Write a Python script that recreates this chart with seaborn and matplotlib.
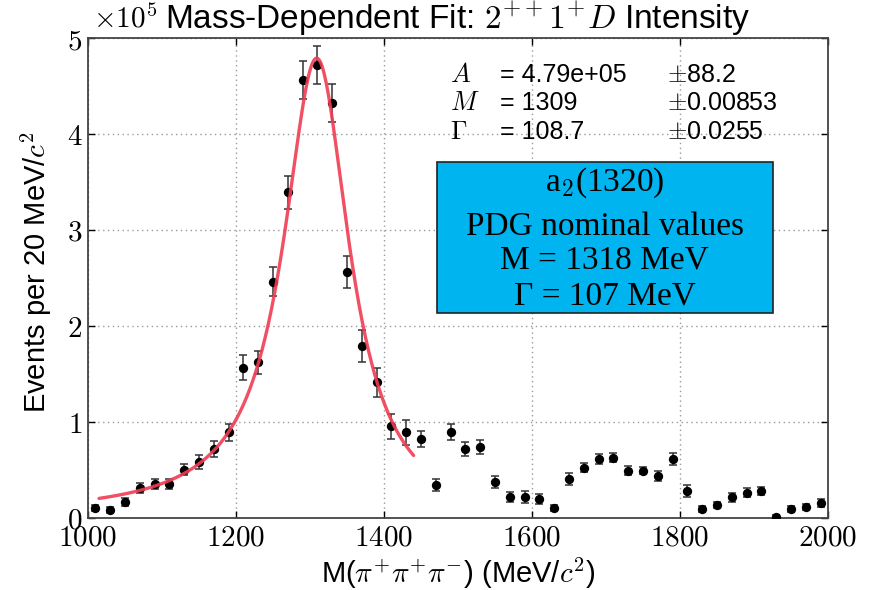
import numpy as np
import pandas as pd
import matplotlib
matplotlib.use("Agg")
import matplotlib.pyplot as plt
from matplotlib.patches import Rectangle
import seaborn as sns

# ----------- DATOS (en unidades de 10^5 eventos) -----------

masa = np.arange(1010, 2000, 20)  # centros de bin, 20 MeV
eventos = [0.10, 0.08, 0.16, 0.305, 0.35, 0.35, 0.50, 0.58, 0.715, 0.89,
           1.56, 1.62, 2.46, 3.39, 4.56, 4.72, 4.32, 2.56, 1.79, 1.41,
           0.95, 0.89, 0.82, 0.34, 0.89, 0.715, 0.733, 0.37, 0.214, 0.214,
           0.19, 0.10, 0.40, 0.52, 0.61, 0.625, 0.49, 0.49, 0.43, 0.61,
           0.277, 0.09, 0.13, 0.21, 0.26, 0.277, 0.01, 0.09, 0.11, 0.15]
errores = [0.03, 0.03, 0.04, 0.05, 0.05, 0.05, 0.06, 0.07, 0.08, 0.09,
           0.13, 0.12, 0.15, 0.17, 0.20, 0.20, 0.20, 0.17, 0.17, 0.15,
           0.13, 0.13, 0.08, 0.06, 0.08, 0.07, 0.07, 0.06, 0.05, 0.06,
           0.05, 0.03, 0.06, 0.05, 0.05, 0.05, 0.05, 0.04, 0.05, 0.06,
           0.06, 0.03, 0.03, 0.05, 0.05, 0.04, 0.02, 0.03, 0.03, 0.04]

# parametros del ajuste (Breit-Wigner)
fit_A = 4.79
fit_M = 1309.0
fit_G = 108.7
rango_fit = (1015, 1440)

xticks = [1000, 1200, 1400, 1600, 1800, 2000]
yticks = [0, 1, 2, 3, 4, 5]

df = pd.DataFrame({"masa": masa, "eventos": eventos, "error": errores})

m_fit = np.linspace(rango_fit[0], rango_fit[1], 300)
bw = fit_A * (fit_M * fit_G) ** 2 / ((fit_M ** 2 - m_fit ** 2) ** 2 + (fit_M * fit_G) ** 2)
df_fit = pd.DataFrame({"masa": m_fit, "bw": bw})

# ----------- FIGURA -----------

sns.set_theme(style="ticks")
plt.rcParams["font.family"] = ["Liberation Sans", "DejaVu Sans"]
plt.rcParams["mathtext.fontset"] = "cm"
plt.rcParams["text.color"] = "black"
plt.rcParams["xtick.color"] = "black"
plt.rcParams["ytick.color"] = "black"

fig = plt.figure(figsize=(8.79, 5.90), dpi=100)
ax = fig.add_axes([88 / 879, 1 - 517.5 / 590, 740 / 879, 479.5 / 590])

ax.errorbar(df["masa"], df["eventos"], yerr=df["error"], fmt="none",
            ecolor="#333333", elinewidth=1.1, capsize=3.0, capthick=1.1, zorder=2)
sns.scatterplot(data=df, x="masa", y="eventos", color="black", s=45,
                edgecolor="black", linewidth=0, ax=ax, zorder=3)
sns.lineplot(data=df_fit, x="masa", y="bw", color="#f03c52", linewidth=2.4,
             alpha=0.9, ax=ax, zorder=4)

ax.set_xlim(1000, 2000)
ax.set_ylim(0, 5)
ax.set_xticks(xticks)
ax.set_yticks(yticks)
ax.set_xticklabels([f"${t}$" for t in xticks])
ax.set_yticklabels([f"${t}$" for t in yticks])
ax.tick_params(axis="both", direction="in", length=5, width=1, labelsize=21,
               top=True, right=True, pad=4)
ax.grid(True, linestyle=(0, (1, 2.5)), color="#999999", linewidth=1)
for s in ax.spines.values():
    s.set_color("#444444")
    s.set_linewidth(1.3)
ax.set_xlabel("")
ax.set_ylabel("")

# estadisticas del ajuste
filas = [(r"$A$", "= 4.79e+05", r"$\pm$88.2"),
         (r"$M$", "= 1309", r"$\pm$0.00853"),
         (r"$\Gamma$", "= 108.7", r"$\pm$0.0255")]
ys = [0.923, 0.864, 0.804]
for (sim, val, err), yy in zip(filas, ys):
    ax.text(0.489, yy, sim, transform=ax.transAxes, fontsize=19, va="center")
    ax.text(0.557, yy, val, transform=ax.transAxes, fontsize=18, va="center")
    ax.text(0.782, yy, err, transform=ax.transAxes, fontsize=18, va="center")

# caja PDG
ax.add_patch(Rectangle((0.4716, 0.426), 0.4534, 0.315, transform=ax.transAxes,
                       facecolor="#00b4f0", edgecolor="#222222", linewidth=1.2, zorder=5))
lineas = [r"a$_2$(1320)", "PDG nominal values", "M = 1318 MeV", "Γ = 107 MeV"]
for txt, yy in zip(lineas, [0.698, 0.607, 0.537, 0.461]):
    ax.text(0.698, yy, txt, transform=ax.transAxes, fontsize=24, ha="center",
            va="center", family="Liberation Serif", zorder=6)

# titulos y etiquetas
fig.text(93 / 879, 1 - 19 / 590, r"$\times10^5$", fontsize=21, va="center")
fig.text(165 / 879, 1 - 19 / 590, r"Mass-Dependent Fit: $2^{++}1^{+}D$ Intensity",
         fontsize=24, va="center")
fig.text(458 / 879, 1 - 573 / 590, r"M($\pi^{+}\pi^{+}\pi^{-}$) (MeV/$c^2$)",
         fontsize=21, ha="center", va="center")
fig.text(36 / 879, 1 - 272 / 590, r"Events per 20 MeV/$c^2$", fontsize=21,
         rotation=90, ha="center", va="center")

fig.savefig("out.png", dpi=100)
